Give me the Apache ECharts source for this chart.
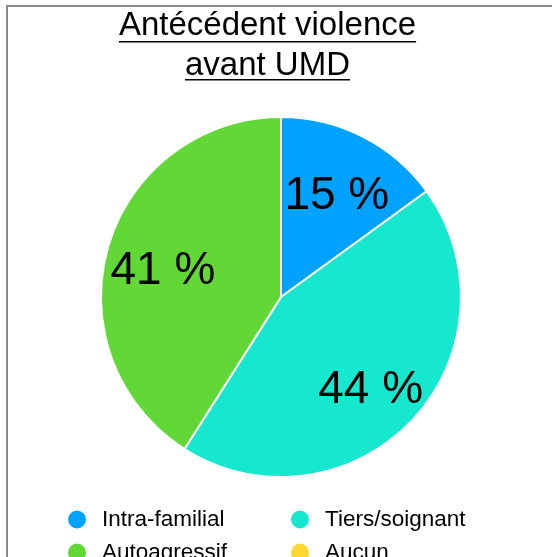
<!DOCTYPE html>
<html>
<head>
<meta charset="utf-8">
<script src="https://cdn.jsdelivr.net/npm/echarts@6/dist/echarts.min.js"></script>
<style>
  html, body { margin: 0; padding: 0; background: #fff; overflow: hidden; }
  #frame { position: absolute; left: 6px; top: 5px; width: 600px; height: 600px;
           border-top: 2px solid #8c8c8c; border-left: 2px solid #8c8c8c; }
  #chart { position: absolute; left: 0; top: 0; width: 552px; height: 557px; }
</style>
</head>
<body>
<div id="frame"></div>
<div id="chart"></div>
<script>
const titleLines = ['Antécédent violence', 'avant UMD'];
const categories = ['Intra-familial', 'Tiers/soignant', 'Autoagressif', 'Aucun'];
const values = [15, 44, 41, 0];
const colors = ['#00A2FF', '#16E7CF', '#61D836', '#FFD932'];

const FONT = '"Liberation Sans", Helvetica, Arial, sans-serif';
const chart = echarts.init(document.getElementById('chart'), null, { renderer: 'canvas' });

const data = categories.map((c, i) => ({ name: c, value: values[i], itemStyle: { color: colors[i] } }));

// underline widths from measured text
const cv = document.createElement('canvas').getContext('2d');
cv.font = '33px ' + FONT;
const titleCx = 267.5;
const underlineY = [41, 79];
const underlines = titleLines.map((t, i) => {
  const w = cv.measureText(t).width;
  return { type: 'rect', silent: true,
    shape: { x: titleCx - w / 2, y: underlineY[i], width: w, height: 1.6 },
    style: { fill: '#000' } };
});

chart.setOption({
  animation: false,
  backgroundColor: 'transparent',
  title: {
    text: titleLines.join('\n'),
    left: titleCx, top: 6, padding: 0,
    textAlign: 'center',
    textStyle: { fontFamily: FONT, fontSize: 33, fontWeight: 'normal', color: '#000', lineHeight: 40 }
  },
  graphic: underlines,
  legend: {
    data: categories,
    left: 66, top: 508, width: 470,
    orient: 'horizontal',
    icon: 'circle',
    itemWidth: 40, itemHeight: 20, itemGap: 10,
    padding: 0,
    textStyle: { fontFamily: FONT, fontSize: 22.5, color: '#000', width: 177, lineHeight: 20 }
  },
  series: [
    {
      type: 'pie',
      center: [281, 297],
      radius: [0, 180],
      startAngle: 90,
      clockwise: true,
      silent: true,
      label: { show: false },
      labelLine: { show: false },
      itemStyle: { borderColor: '#fff', borderWidth: 2 },
      emphasis: { disabled: true },
      data: data
    },
    {
      type: 'pie',
      center: [281, 297],
      radius: [60, 180],
      startAngle: 90,
      clockwise: true,
      silent: true,
      legendHoverLink: false,
      itemStyle: { color: 'transparent', borderWidth: 0, opacity: 0 },
      label: {
        show: true, position: 'inside', opacity: 1,
        offset: [0, 9],
        fontFamily: FONT, fontSize: 46, color: '#000',
        formatter: p => p.value > 0 ? Math.round(p.percent) + ' %' : ''
      },
      labelLine: { show: false },
      emphasis: { disabled: true },
      data: categories.map((c, i) => ({ name: c, value: values[i] }))
    }
  ]
});
</script>
</body>
</html>
